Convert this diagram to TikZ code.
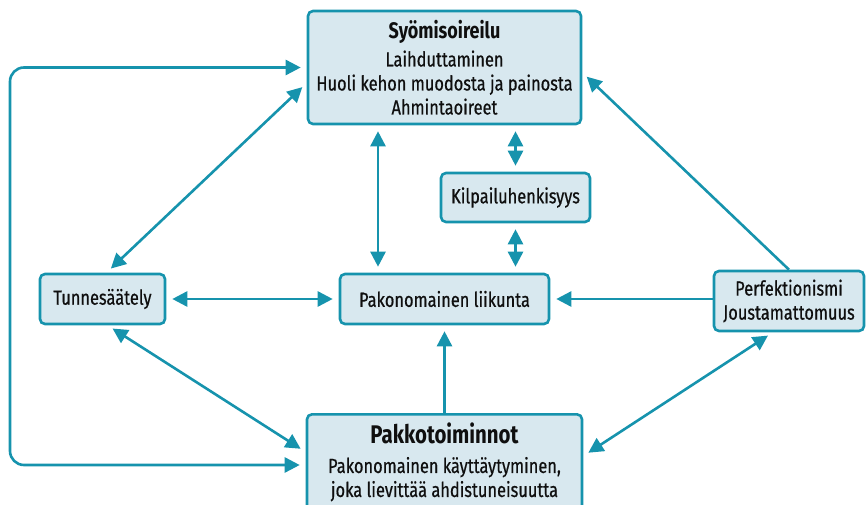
\documentclass[tikz,border=0pt]{standalone}
\usepackage{fontspec}
\setmainfont{Fira Sans}[FakeStretch=0.8,UprightFeatures={FakeBold=0.6}]
\usetikzlibrary{arrows.meta,positioning}
\definecolor{boxline}{RGB}{22,147,173}
\definecolor{boxfill}{RGB}{216,232,239}
\definecolor{ink}{RGB}{15,15,15}

\begin{document}
\begin{tikzpicture}[x=1pt,y=-1pt,line width=2.6pt,>={Triangle[length=15pt,width=15pt]},
  font=\fontsize{20.5}{24}\selectfont]
  \tikzstyle{box}=[draw=boxline,fill=boxfill,rounded corners=5pt,align=center,inner sep=0pt,text=ink]
  \tikzstyle{link}=[draw=boxline,line width=2.6pt,shorten >=6pt,shorten <=6pt]
  \tikzstyle{oneway}=[link,->,shorten <=0pt]
  \clip (0,0) rectangle (866,505);

  \node[box,minimum width=273pt,minimum height=113pt] (syo) at (444.5,67.5)
    {{\fontsize{22.5}{24}\selectfont\bfseries Syömisoireilu}\\[4pt] Laihduttaminen\\ Huoli kehon muodosta ja painosta\\ Ahmintaoireet};
  \node[box,minimum width=149pt,minimum height=49pt] (kilpa) at (515.5,197.5) {Kilpailuhenkisyys};
  \node[box,minimum width=125pt,minimum height=50pt] (tunne) at (102.5,299) {Tunnesäätely};
  \node[box,minimum width=209pt,minimum height=50pt] (liik)  at (444.5,299) {Pakonomainen liikunta};
  \node[box,minimum width=150pt,minimum height=60pt] (perf)  at (789,301) {Perfektionismi\\ Joustamattomuus};
  \node[box,minimum width=275pt,inner ysep=9pt,anchor=north] (pakko) at (444.5,413)
    {{\fontsize{25.5}{26}\selectfont\bfseries Pakkotoiminnot}\\[5pt] Pakonomainen käyttäytyminen,\\ joka lievittää ahdistuneisuutta};
  \coordinate (rim) at (10,67.5);

  % paluusilmukka vasemmalla
  \draw[link,<->,rounded corners=14pt] ([yshift=-52pt]pakko.north west) -| (rim) -- (syo.west);

  \draw[link,<->] ([yshift=-15.5pt]syo.west) -- ([xshift=4pt]tunne.north);
  \draw[link,<->] ([xshift=-66.5pt]syo.south) -- ([xshift=-66.5pt]liik.north);
  \draw[link,<->] (syo.south -| kilpa.north) -- (kilpa.north);
  \draw[link,<->] (kilpa.south) -- (kilpa.south |- liik.north);
  \draw[link,<->] (tunne.east) -- (liik.west);
  \draw[link,<->] ([xshift=5pt]tunne.south) -- ([yshift=-39pt]pakko.north west);
  \draw[link,<->] ([xshift=-16pt]perf.south) -- ([yshift=-43pt]pakko.north east);

  \draw[oneway] (perf.west |- liik.east) -- (liik.east);
  \draw[oneway] (perf.north) -- ([yshift=-5pt]syo.east);
  \draw[oneway] (pakko.north) -- (liik.south);
\end{tikzpicture}
\end{document}
